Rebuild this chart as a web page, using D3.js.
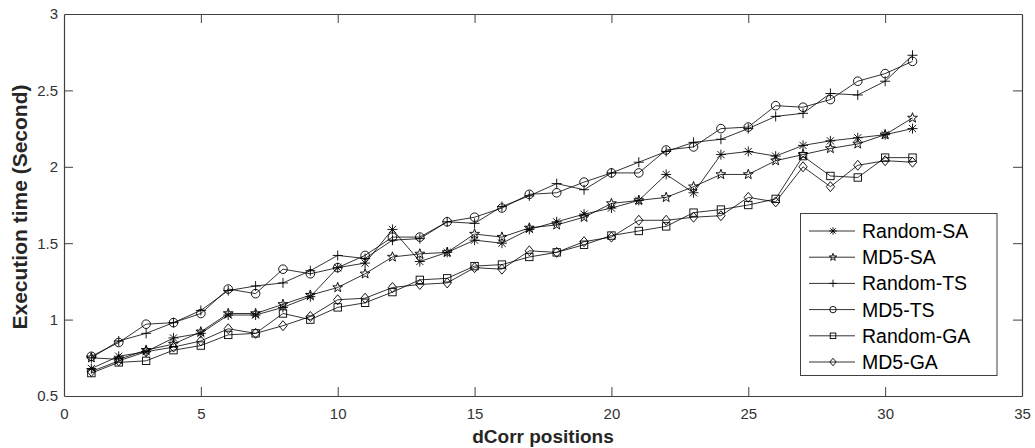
<!DOCTYPE html>
<html>
<head>
<meta charset="utf-8">
<script src="https://cdn.jsdelivr.net/npm/d3@7"></script>
<style>
  html, body { margin: 0; padding: 0; background: #fff; }
  svg { display: block; font-family: "Liberation Sans", Arial, sans-serif; }
</style>
</head>
<body>
<svg id="chart" width="1035" height="448"></svg>
<script>
// ---- data ----
const positions = [1,2,3,4,5,6,7,8,9,10,11,12,13,14,15,16,17,18,19,20,21,22,23,24,25,26,27,28,29,30,31];
const randomSA = [0.68,0.76,0.79,0.88,0.91,1.03,1.03,1.08,1.15,1.34,1.37,1.59,1.38,1.44,1.52,1.50,1.59,1.64,1.69,1.73,1.78,1.95,1.83,2.08,2.10,2.07,2.14,2.17,2.19,2.21,2.25];
const md5SA    = [0.75,0.74,0.80,0.84,0.92,1.04,1.04,1.10,1.16,1.21,1.30,1.41,1.43,1.44,1.56,1.54,1.60,1.62,1.67,1.76,1.78,1.80,1.87,1.95,1.95,2.04,2.08,2.12,2.15,2.21,2.32];
const randomTS = [0.75,0.86,0.91,0.98,1.06,1.19,1.22,1.24,1.32,1.42,1.40,1.52,1.53,1.64,1.63,1.74,1.81,1.89,1.85,1.96,2.03,2.10,2.16,2.18,2.25,2.33,2.35,2.48,2.47,2.56,2.73];
const md5TS    = [0.76,0.85,0.97,0.98,1.04,1.20,1.17,1.33,1.30,1.34,1.42,1.54,1.54,1.64,1.67,1.73,1.82,1.83,1.90,1.96,1.96,2.11,2.13,2.25,2.26,2.40,2.39,2.44,2.56,2.61,2.69];
const randomGA = [0.65,0.72,0.73,0.80,0.83,0.90,0.91,1.04,1.00,1.08,1.11,1.18,1.26,1.27,1.35,1.36,1.41,1.44,1.49,1.55,1.58,1.61,1.70,1.72,1.75,1.79,2.07,1.94,1.93,2.06,2.06];
const md5GA    = [0.66,0.73,0.79,0.82,0.86,0.94,0.91,0.96,1.02,1.13,1.14,1.21,1.23,1.24,1.34,1.33,1.45,1.44,1.51,1.54,1.65,1.65,1.67,1.68,1.80,1.77,2.00,1.87,2.01,2.04,2.03];

const seriesNames = ["Random-SA","MD5-SA","Random-TS","MD5-TS","Random-GA","MD5-GA"];
const seriesValues = [randomSA, md5SA, randomTS, md5TS, randomGA, md5GA];
const seriesMarkers = ["asterisk","star","plus","circle","square","diamond"];

const xTicks = [0,5,10,15,20,25,30,35];
const yTicks = [0.5,1,1.5,2,2.5,3];
const xLabel = "dCorr positions";
const yLabel = "Execution time (Second)";

// ---- layout ----
const svg = d3.select("#chart");
const L = 64, R = 1022, T = 14, B = 396;
const x = d3.scaleLinear().domain([0,35]).range([L,R]);
const y = d3.scaleLinear().domain([0.5,3]).range([B,T]);
const axisColor = "#404040";
const tickLen = 9;

// axes
const gx = svg.append("g").attr("transform", `translate(0,${B})`)
  .call(d3.axisBottom(x).tickValues(xTicks).tickFormat(d3.format("d")).tickSizeInner(-tickLen).tickSizeOuter(0).tickPadding(12));
const gy = svg.append("g").attr("transform", `translate(${L},0)`)
  .call(d3.axisLeft(y).tickValues(yTicks).tickFormat(d => String(d)).tickSizeInner(-tickLen).tickSizeOuter(0).tickPadding(6));
const gxt = svg.append("g").attr("transform", `translate(0,${T})`)
  .call(d3.axisTop(x).tickValues(xTicks).tickFormat("").tickSizeInner(-tickLen).tickSizeOuter(0));
const gyr = svg.append("g").attr("transform", `translate(${R},0)`)
  .call(d3.axisRight(y).tickValues(yTicks).tickFormat("").tickSizeInner(-tickLen).tickSizeOuter(0));
[gx, gy, gxt, gyr].forEach(g => {
  g.selectAll("path").attr("stroke", axisColor).attr("stroke-width", 1.2);
  g.selectAll("line").attr("stroke", axisColor).attr("stroke-width", 1);
  g.selectAll("text").attr("fill", "#333").style("font-size", "15px").attr("font-family", null);
});
// remove first/last inner ticks that would overlap box edges
[gx, gxt].forEach(g => g.selectAll(".tick").filter(d => d === 0 || d === 35).select("line").remove());
[gy, gyr].forEach(g => g.selectAll(".tick").filter(d => d === 0.5 || d === 3).select("line").remove());

// axis labels
svg.append("text").attr("x", x(17.5)).attr("y", 443).attr("text-anchor", "middle")
  .attr("font-weight", "bold").attr("font-size", "19px").attr("fill", "#262626").text(xLabel);
svg.append("text").attr("transform", `translate(27,${207}) rotate(-90)`).attr("text-anchor", "middle")
  .attr("font-weight", "bold").attr("font-size", "21px").attr("fill", "#262626").text(yLabel);

// marker drawing
function drawMarker(g, type, s) {
  const st = {fill: "none", stroke: "#000", "stroke-width": 0.9};
  const apply = sel => { for (const k in st) sel.attr(k, st[k]); return sel; };
  if (type === "circle") apply(g.append("circle").attr("r", 4.3 * s));
  else if (type === "square") apply(g.append("rect").attr("x", -3.7*s).attr("y", -3.7*s).attr("width", 7.4*s).attr("height", 7.4*s));
  else if (type === "diamond") apply(g.append("path").attr("d", `M0,${-5*s}L${4.2*s},0L0,${5*s}L${-4.2*s},0Z`));
  else if (type === "plus") apply(g.append("path").attr("d", `M${-5*s},0H${5*s}M0,${-5*s}V${5*s}`));
  else if (type === "asterisk") {
    const r = 5*s, d = r*0.72;
    apply(g.append("path").attr("d", `M${-r},0H${r}M0,${-r}V${r}M${-d},${-d}L${d},${d}M${-d},${d}L${d},${-d}`));
  } else if (type === "star") {
    const pts = [];
    for (let i = 0; i < 10; i++) {
      const a = -Math.PI/2 + i*Math.PI/5;
      const rr = (i % 2 === 0 ? 5.2 : 2.1) * s;
      pts.push([rr*Math.cos(a), rr*Math.sin(a)]);
    }
    apply(g.append("path").attr("d", "M" + pts.map(p => p.join(",")).join("L") + "Z"));
  }
}

// series
const line = d3.line().x((d,i) => x(positions[i])).y(d => y(d));
seriesValues.forEach((vals, k) => {
  const g = svg.append("g");
  g.append("path").attr("d", line(vals)).attr("fill", "none").attr("stroke", "#000").attr("stroke-width", 0.8);
  vals.forEach((v, i) => {
    const mg = g.append("g").attr("transform", `translate(${x(positions[i])},${y(v)})`);
    drawMarker(mg, seriesMarkers[k], 1);
  });
});

// legend
const lg = svg.append("g");
lg.append("rect").attr("x", 800.5).attr("y", 213.5).attr("width", 196.5).attr("height", 162)
  .attr("fill", "#fff").attr("stroke", axisColor).attr("stroke-width", 1);
seriesNames.forEach((name, k) => {
  const yy = 231 + k * 26.2;
  lg.append("line").attr("x1", 809).attr("x2", 855).attr("y1", yy).attr("y2", yy).attr("stroke", "#000").attr("stroke-width", 0.8);
  const mg = lg.append("g").attr("transform", `translate(833,${yy})`);
  drawMarker(mg, seriesMarkers[k], 0.75);
  lg.append("text").attr("x", 862).attr("y", yy + 7).attr("font-size", "19.5px").attr("fill", "#000").text(name);
});
</script>
</body>
</html>
